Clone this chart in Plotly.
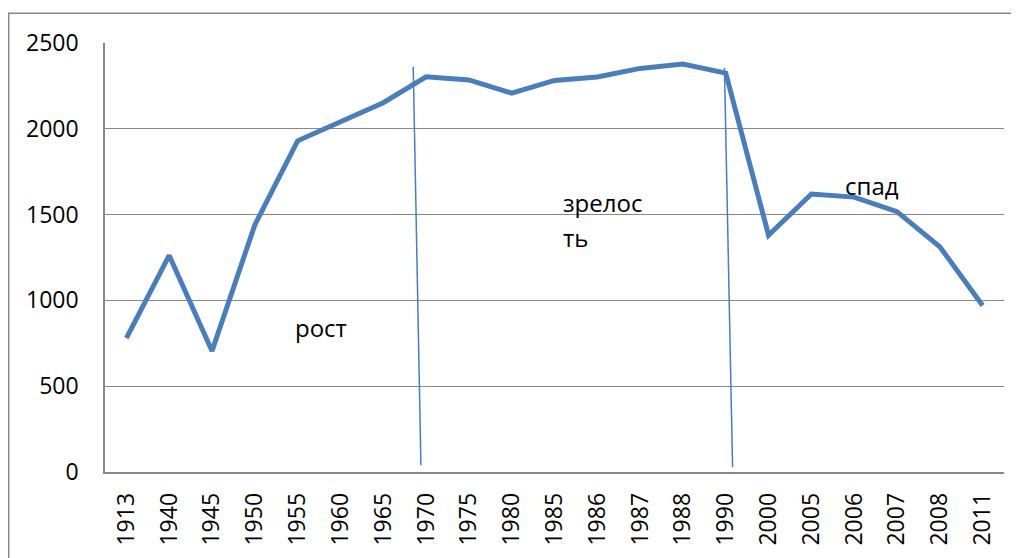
import plotly.graph_objects as go

years = ["1913", "1940", "1945", "1950", "1955", "1960", "1965", "1970", "1975", "1980",
         "1985", "1986", "1987", "1988", "1990", "2000", "2005", "2006", "2007", "2008", "2011"]
values = [780, 1262, 705, 1440, 1930, 2045, 2152, 2303, 2285, 2208,
          2282, 2302, 2352, 2377, 2325, 1380, 1620, 1602, 1517, 1313, 970]
y_ticks = [0, 500, 1000, 1500, 2000, 2500]

# stage labels (text, category position, value)
stage_text = ["рост", "зрелос", "ть", "спад"]
stage_x = [3.88, 10.15, 10.15, 16.74]
stage_y = [845, 1570, 1368, 1672]

# stage divider lines (category position top/bottom, value top/bottom)
div_x_top = [6.70, 13.97]
div_x_bot = [6.88, 14.16]
div_y_top = [2360, 2355]
div_y_bot = [40, 28]

BLUE = "#4a7ebb"
GRID = "#878787"
FONT = "Open Sans"

fig = go.Figure()
fig.add_trace(go.Scatter(
    x=list(range(len(years))), y=values, mode="lines",
    line=dict(color=BLUE, width=5), hoverinfo="skip", showlegend=False))

shapes = []
for xt, xb, yt, yb in zip(div_x_top, div_x_bot, div_y_top, div_y_bot):
    shapes.append(dict(type="line", xref="x", yref="y", x0=xt, x1=xb, y0=yt, y1=yb,
                       line=dict(color=BLUE, width=1.5)))
# outer chart border
shapes.append(dict(type="rect", xref="paper", yref="paper",
                   x0=-0.1071, x1=1.03, y0=-0.25, y1=1.0693,
                   line=dict(color=GRID, width=1.5), layer="above"))
fig.update_layout(shapes=shapes)

for t, x, y in zip(stage_text, stage_x, stage_y):
    fig.add_annotation(x=x, y=y, xref="x", yref="y", text=t, showarrow=False,
                       xanchor="left", yanchor="middle",
                       font=dict(family=FONT, size=24, color="#000000"))

fig.update_xaxes(
    tickmode="array", tickvals=list(range(len(years))), ticktext=years,
    range=[-0.5, len(years) - 0.5], tickangle=-90,
    showgrid=False, showline=True, linecolor=GRID, linewidth=1.5,
    ticks="", tickfont=dict(family=FONT, size=23, color="#000000"), zeroline=False,
    ticklabelstandoff=10)
fig.update_yaxes(
    tickmode="array", tickvals=y_ticks, range=[0, 2500],
    showgrid=True, gridcolor=GRID, gridwidth=1.3,
    showline=True, linecolor=GRID, linewidth=1.5, ticks="", ticklen=0,
    tickfont=dict(family=FONT, size=23, color="#000000"), zeroline=False,
    ticklabelstandoff=20)

fig.update_layout(
    width=1011, height=550,
    margin=dict(l=97, r=15, t=35, b=82, pad=0),
    plot_bgcolor="white", paper_bgcolor="white",
    font=dict(family=FONT))

fig.write_html("out.html")
